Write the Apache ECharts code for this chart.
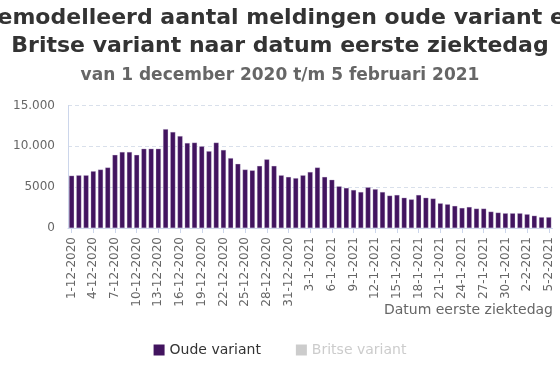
<!DOCTYPE html>
<html>
<head>
<meta charset="utf-8">
<script src="https://cdn.jsdelivr.net/npm/echarts@6/dist/echarts.min.js"></script>
<style>html,body{margin:0;padding:0;background:#fff;}#c{width:560px;height:373px;}</style>
</head>
<body>
<div id="c"></div>
<script>
var titleText = 'Gemodelleerd aantal meldingen oude variant en\nBritse variant naar datum eerste ziektedag';
var subtitleText = 'van 1 december 2020 t/m 5 februari 2021';
var xAxisName = 'Datum eerste ziektedag';
var seriesNames = ['Oude variant', 'Britse variant'];
var yTicks = [0, 5000, 10000, 15000];

var dates = [
  '1-12-2020','2-12-2020','3-12-2020','4-12-2020','5-12-2020','6-12-2020','7-12-2020','8-12-2020','9-12-2020','10-12-2020',
  '11-12-2020','12-12-2020','13-12-2020','14-12-2020','15-12-2020','16-12-2020','17-12-2020','18-12-2020','19-12-2020','20-12-2020',
  '21-12-2020','22-12-2020','23-12-2020','24-12-2020','25-12-2020','26-12-2020','27-12-2020','28-12-2020','29-12-2020','30-12-2020',
  '31-12-2020','1-1-2021','2-1-2021','3-1-2021','4-1-2021','5-1-2021','6-1-2021','7-1-2021','8-1-2021','9-1-2021',
  '10-1-2021','11-1-2021','12-1-2021','13-1-2021','14-1-2021','15-1-2021','16-1-2021','17-1-2021','18-1-2021','19-1-2021',
  '20-1-2021','21-1-2021','22-1-2021','23-1-2021','24-1-2021','25-1-2021','26-1-2021','27-1-2021','28-1-2021','29-1-2021',
  '30-1-2021','31-1-2021','1-2-2021','2-2-2021','3-2-2021','4-2-2021','5-2-2021'
];

var oudeVariant = [
  6400, 6450, 6450, 6950, 7150, 7400, 8950, 9300, 9300, 8950,
  9700, 9700, 9700, 12100, 11750, 11250, 10400, 10450, 10000, 9400,
  10450, 9550, 8550, 7850, 7150, 7050, 7600, 8400, 7600, 6450,
  6250, 6100, 6450, 6850, 7400, 6250, 5900, 5100, 4900, 4650,
  4400, 4980, 4750, 4400, 3960, 4040, 3700, 3500, 4040, 3700,
  3600, 3020, 2900, 2700, 2450, 2570, 2370, 2370, 2000, 1880,
  1800, 1800, 1800, 1680, 1500, 1320, 1320
];

// Hidden (deselected) in the reference; values not visible
var britseVariant = [];

var FONT = 'DejaVu Sans';

function fmt(v) {
  if (v >= 10000) {
    return String(v).replace(/\B(?=(\d{3})+(?!\d))/g, '.');
  }
  return String(v);
}

var chart = echarts.init(document.getElementById('c'), null, {renderer: 'canvas'});
chart.setOption({
  animation: false,
  backgroundColor: '#ffffff',
  title: [
    {
      text: titleText,
      left: 'center',
      top: -1,
      textStyle: {fontFamily: FONT, fontSize: 22, fontWeight: 'bold', color: '#333333', lineHeight: 28}
    },
    {
      text: subtitleText,
      left: 'center',
      top: 61,
      textStyle: {fontFamily: FONT, fontSize: 17, fontWeight: 'bold', color: '#666666', lineHeight: 20}
    }
  ],
  graphic: [
    {
      type: 'text',
      right: 7,
      top: 303,
      style: {text: xAxisName, fontFamily: FONT, fontSize: 14, fill: '#666666'}
    }
  ],
  legend: {
    data: seriesNames,
    bottom: 11,
    left: 'center',
    icon: 'rect',
    itemWidth: 11,
    itemHeight: 11,
    itemGap: 35,
    selected: {'Oude variant': true, 'Britse variant': false},
    inactiveColor: '#cccccc',
    itemStyle: {borderWidth: 0},
    textStyle: {fontFamily: FONT, fontSize: 14, color: '#333333'}
  },
  grid: {left: 68, right: 7.6, top: 105.5, bottom: 145, containLabel: false, outerBoundsMode: 'none'},
  xAxis: {
    type: 'category',
    data: dates,
    axisLine: {show: true, lineStyle: {color: '#ccd6eb', width: 1}},
    axisTick: {show: true, interval: 2, alignWithLabel: true, length: 5, lineStyle: {color: '#ccd6eb'}},
    axisLabel: {interval: 2, rotate: 90, margin: 9, fontFamily: FONT, fontSize: 12, color: '#666666'},
    splitLine: {show: false}
  },
  yAxis: {
    type: 'value',
    min: yTicks[0],
    max: yTicks[yTicks.length - 1],
    interval: 5000,
    axisLine: {show: true, lineStyle: {color: '#ccd6eb', width: 1}},
    axisTick: {show: false},
    axisLabel: {margin: 13, fontFamily: FONT, fontSize: 12, color: '#666666', formatter: fmt},
    splitLine: {show: true, lineStyle: {color: '#d9e0eb', type: [4, 3], width: 1}}
  },
  series: [
    {
      name: seriesNames[0],
      type: 'bar',
      stack: 'total',
      data: oudeVariant,
      barWidth: 5,
      itemStyle: {color: '#42145f', borderColor: '#d4c8e0', borderWidth: 0.3}
    },
    {
      name: seriesNames[1],
      type: 'bar',
      stack: 'total',
      data: britseVariant,
      barWidth: 5,
      itemStyle: {color: '#cccccc'}
    }
  ]
});
</script>
</body>
</html>
